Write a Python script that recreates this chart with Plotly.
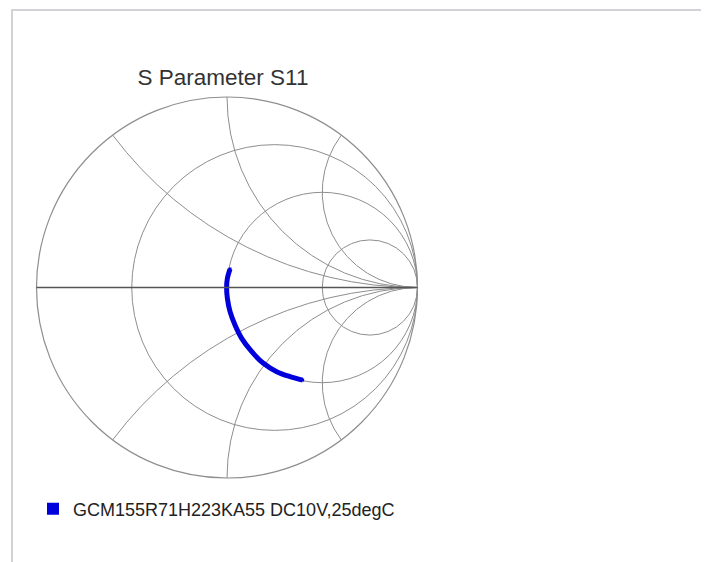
import plotly.graph_objects as go
import numpy as np

# ---------------- data ----------------
title_text = "S Parameter S11"
series_name = "GCM155R71H223KA55 DC10V,25degC"

s11_re = [0.016, 0.002, -0.002, 0.002, 0.016, 0.042, 0.077, 0.130, 0.191, 0.261, 0.331, 0.397]
s11_im = [0.097, 0.048, -0.001, -0.057, -0.127, -0.197, -0.267, -0.337, -0.398, -0.442, -0.468, -0.486]

# Smith chart grid values (normalized resistance / reactance)
resistance_grid = [1 / 3, 1, 3]
reactance_grid = [-2, -1, -0.5, 0.5, 1, 2]

# ---------------- figure ----------------
W, H = 709, 562
OFF = 8  # page body margin in the browser
gamma = np.array(s11_re) + 1j * np.array(s11_im)
z = (1 + gamma) / (1 - gamma)

trace_color = "#0000dd"
grid_color = "#8e8e8e"


def px(x):
    return (x - OFF) / W


def py(y):
    return 1 - (y - OFF) / H


fig = go.Figure()
fig.add_trace(go.Scattersmith(
    real=z.real, imag=z.imag, mode="lines",
    line=dict(color=trace_color, width=5, shape="spline"),
    name=series_name, showlegend=False, hoverinfo="skip",
))
fig.add_trace(go.Scattersmith(
    real=z.real, imag=z.imag, mode="markers",
    marker=dict(symbol="square", size=3, color=trace_color),
    name=series_name, showlegend=True,
))

cx, cy, R = 227.0, 287.5, 190.5
fig.update_layout(
    width=W, height=H,
    margin=dict(l=0, r=0, t=0, b=0),
    paper_bgcolor="white",
    font=dict(family="Arial, Liberation Sans, sans-serif", color="#222"),
    title=dict(
        text=title_text, x=px(223), xanchor="center", xref="paper",
        y=py(77), yanchor="middle", yref="paper",
        font=dict(size=22.5, color="#333", family="Arial, Liberation Sans, sans-serif"),
    ),
    smith=dict(
        domain=dict(x=[px(cx - R), px(cx + R)], y=[py(cy + R), py(cy - R)]),
        bgcolor="white",
        realaxis=dict(
            tickvals=resistance_grid, showticklabels=False, ticks="",
            gridcolor=grid_color, gridwidth=1,
            showline=True, linecolor="#555555", linewidth=1.5,
        ),
        imaginaryaxis=dict(
            tickvals=reactance_grid, showticklabels=False, ticks="",
            gridcolor=grid_color, gridwidth=1,
            showline=True, linecolor=grid_color, linewidth=1.2,
        ),
    ),
    showlegend=True,
    legend=dict(
        x=px(33), xanchor="left", y=py(509), yanchor="middle",
        itemsizing="constant", bgcolor="rgba(0,0,0,0)",
        font=dict(size=18, color="#222", family="Arial, Liberation Sans, sans-serif"),
    ),
    shapes=[dict(
        type="rect", xref="paper", yref="paper",
        x0=px(12), x1=px(703.5), y0=-0.05, y1=py(10),
        line=dict(color="#d2d3d6", width=2), fillcolor="rgba(0,0,0,0)",
        layer="below",
    )],
)

fig.write_html("out.html")
